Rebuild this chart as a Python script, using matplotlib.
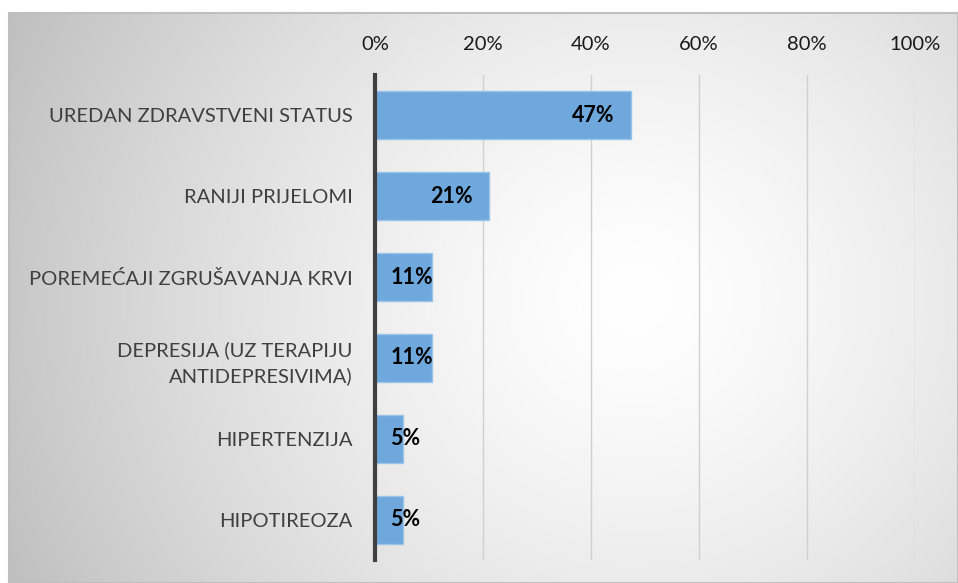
import numpy as np
import matplotlib
matplotlib.use("Agg")
import matplotlib.pyplot as plt
from matplotlib.ticker import FuncFormatter

categories = [
    "UREDAN ZDRAVSTVENI STATUS",
    "RANIJI PRIJELOMI",
    "POREMEĆAJI ZGRUŠAVANJA KRVI",
    "DEPRESIJA (UZ TERAPIJU\nANTIDEPRESIVIMA)",
    "HIPERTENZIJA",
    "HIPOTIREOZA",
]
values = [0.4737, 0.2105, 0.1053, 0.1053, 0.0526, 0.0526]
value_labels = ["47%", "21%", "11%", "11%", "5%", "5%"]
x_ticks = [0, 0.2, 0.4, 0.6, 0.8, 1.0]

plt.rcParams["font.family"] = ["Lato", "DejaVu Sans"]

W, H = 958, 583
fig = plt.figure(figsize=(W / 100, H / 100), dpi=100)
fig.patch.set_facecolor("white")

# chart area with radial gradient background
bg = fig.add_axes([9 / W, 0, 1 - 9 / W, 1 - 13 / H])
gx, gy = np.meshgrid(np.linspace(0, 1, 400), np.linspace(0, 1, 250))
cx, cy = 0.66, 0.5
d = np.sqrt(((gx - cx) * 1.6) ** 2 + (gy - cy) ** 2)
d = np.clip(d / d.max(), 0, 1)
shade = 1.0 - 0.25 * d ** 1.4
img = np.dstack([shade, shade, shade])
bg.imshow(img, aspect="auto", extent=[0, 1, 0, 1], origin="upper")
bg.set_xticks([])
bg.set_yticks([])
for s in bg.spines.values():
    s.set_color("#bfbfbf")
    s.set_linewidth(1.5)

ax = fig.add_axes([375 / W, 1 - 560 / H, (915 - 375) / W, (560 - 75) / H])
ax.patch.set_alpha(0)

y = np.arange(len(categories))
ax.barh(y, values, height=0.594, color="#6fa8dc", edgecolor="#9cc3e8",
        linewidth=1, zorder=3)

ax.set_xlim(0, 1)
ax.set_ylim(len(categories) - 0.5, -0.5)
ax.set_xticks(x_ticks)
ax.xaxis.set_major_formatter(FuncFormatter(lambda v, p: f"{v:.0%}"))
ax.xaxis.tick_top()
ax.tick_params(axis="x", length=0, pad=16, labelsize=14.5, labelcolor="#1a1a1a")
ax.set_yticks(y)
ax.set_yticklabels(categories, fontsize=14.5, color="#404040", linespacing=1.5)
ax.tick_params(axis="y", length=0, pad=16)
ax.grid(axis="x", color="#d0d0d0", linewidth=1, zorder=1)

for s in ["top", "right", "bottom"]:
    ax.spines[s].set_visible(False)
ax.spines["left"].set_color("#404040")
ax.spines["left"].set_linewidth(3)
ax.spines["left"].set_zorder(4)

for yi, v, lab in zip(y, values, value_labels):
    if v > 0.15:
        ax.text(v - 0.03, yi, lab, ha="right", va="center", fontsize=15.5,
                fontweight="bold", color="black", zorder=5)
    else:
        ax.text(0.028, yi, lab, ha="left", va="center", fontsize=15.5,
                fontweight="bold", color="black", zorder=5)

fig.savefig("out.png", dpi=100)
